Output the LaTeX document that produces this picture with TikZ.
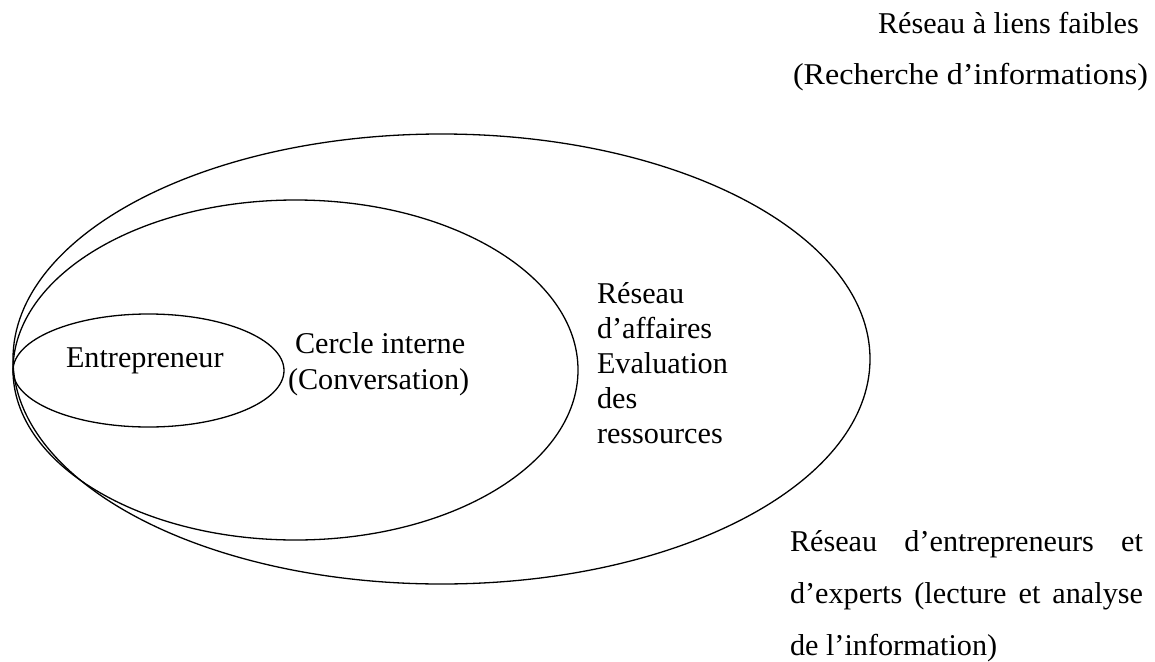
\documentclass[tikz,border=0pt]{standalone}
\usepackage{graphicx}
\usepackage{fontspec}
\setmainfont{Liberation Serif}
\begin{document}
\begin{tikzpicture}[x=1pt,y=-1pt,
  ring/.style={draw=black,line width=1.3pt},
  lbl/.style={anchor=base west,inner sep=0pt,outer sep=0pt,font=\fontsize{30.2}{36}\selectfont}]
\useasboundingbox (0,0) rectangle (1155,661);
% ellipses
\draw[ring] (441.5,359) ellipse [x radius=428.5, y radius=225];
\draw[ring] (295.5,370) ellipse [x radius=282.5, y radius=170];
\draw[ring] (148.5,370.5) ellipse [x radius=135.5, y radius=56.5];
% labels
\node[lbl] (ent) at (66,367) {Entrepreneur};
\node[lbl] (cer1) at (295,353) {Cercle interne};
\node[lbl] (cer2) at (288,389) {(Conversation)};
\node[lbl] (ra1) at (597,303) {Réseau};
\node[lbl] (ra2) at (597,338) {d’affaires};
\node[lbl] (ra3) at (597,373) {Evaluation};
\node[lbl] (ra4) at (597,408) {des};
\node[lbl] (ra5) at (597,443) {ressources};
\node[lbl] (rf1) at (878,34) {Réseau à liens faibles};
\node[lbl] (rf2) at (793,84) {\scalebox{1.061}[1]{(Recherche d’informations)}};
\node[lbl] (re1) at (790,551) {\makebox[353pt][s]{Réseau d’entrepreneurs et}};
\node[lbl] (re2) at (790,603) {\makebox[353pt][s]{d’experts (lecture et analyse}};
\node[lbl] (re3) at (790,655) {de l’information)};
\end{tikzpicture}
\end{document}
